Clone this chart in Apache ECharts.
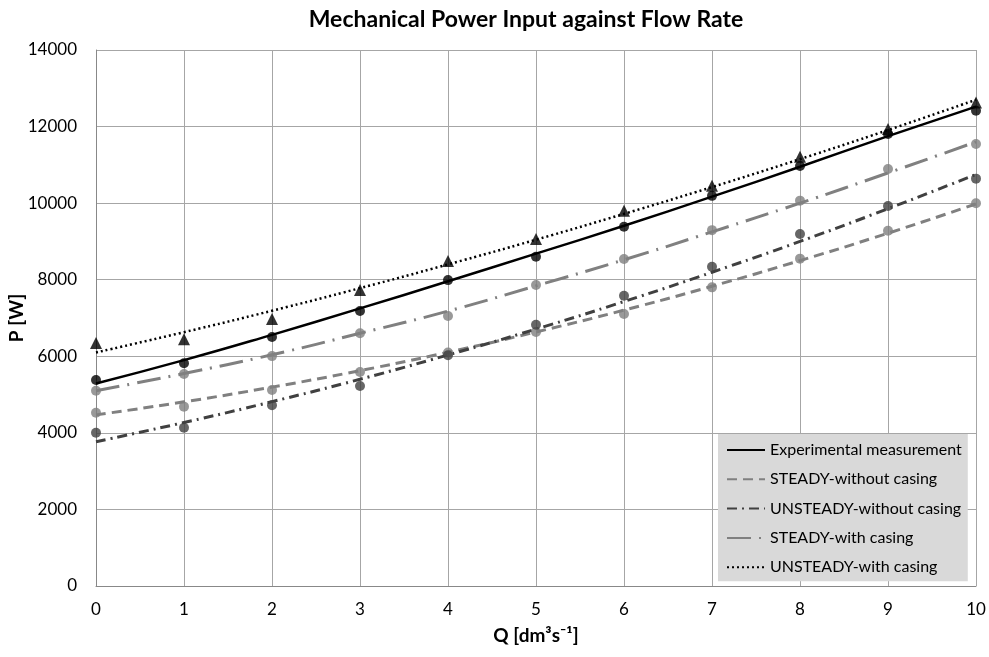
<!DOCTYPE html>
<html><head><meta charset="utf-8">
<script src="https://cdn.jsdelivr.net/npm/echarts@6/dist/echarts.min.js"></script>
<style>html,body{margin:0;padding:0;background:#fff}#c{width:989px;height:657px}</style>
</head><body><div id="c"></div>
<script>
const flowQ = [0,1,2,3,4,5,6,7,8,9,10];
const xTickLabels = ['0','1','2','3','4','5','6','7','8','9','10'];
const yTickLabels = ['0','2000','4000','6000','8000','10000','12000','14000'];
const seriesNames = ['Experimental measurement','STEADY-without casing','UNSTEADY-without casing','STEADY-with casing','UNSTEADY-with casing'];
// measured / simulated points (markers)
const expPts      = [5380,5820,6505,7185,7990,8600,9385,10190,10970,11805,12415];
const steadyNoPts = [4525,4685,5120,5590,6100,6635,7105,7800,8550,9280,9995];
const unsteadyNoPts=[4005,4135,4720,5225,6025,6825,7580,8340,9195,9925,10640];
const steadyCasPts= [5100,5535,6005,6600,7050,7860,8540,9295,10065,10890,11545];
const unsteadyCasPts=[6350,6445,6975,7730,8490,9065,9800,10455,11215,11935,12630];
// trendlines
const expTrend      = [5290,5900,6560,7250,7960,8680,9410,10170,10950,11750,12520];
const steadyNoTrend = [4470,4810,5195,5625,6105,6635,7205,7830,8500,9215,9980];
const unsteadyNoTrend=[3770,4270,4815,5400,6035,6710,7430,8195,9000,9855,10750];
const steadyCasTrend= [5100,5550,6040,6600,7180,7840,8520,9250,10000,10790,11600];
const unsteadyCasTrend=[6100,6630,7190,7780,8400,9045,9720,10420,11150,11910,12700];

const pairs = a => flowQ.map((q,i)=>[q,a[i]]);
const font = 'Lato, "Open Sans", sans-serif';
const styles = [
  {color:'#000000', type:'solid', width:2.5, sym:'circle', size:10, pts:expPts, tr:expTrend},
  {color:'#808080', type:[10,6], width:3, sym:'circle', size:10, pts:steadyNoPts, tr:steadyNoTrend},
  {color:'#404040', type:[10,5,2,5], width:3, sym:'circle', size:10, pts:unsteadyNoPts, tr:unsteadyNoTrend},
  {color:'#808080', type:[24,8,2,8], width:3, sym:'circle', size:10, pts:steadyCasPts, tr:steadyCasTrend},
  {color:'#000000', type:[2,3], width:2.5, sym:'triangle', size:12, pts:unsteadyCasPts, tr:unsteadyCasTrend}
];
const series = [];
styles.forEach((s,i)=>{
  series.push({name:seriesNames[i], type:'line', smooth:true, symbol:'none', data:pairs(s.tr),
    lineStyle:{color:s.color, type:s.type, width:s.width}, itemStyle:{color:s.color}, z:2});
});
styles.forEach((s,i)=>{
  series.push({name:seriesNames[i]+' pts', type:'scatter', symbol:s.sym, symbolSize:s.size,
    data:pairs(s.pts), itemStyle:{color:s.color}, z:3});
});
const chart = echarts.init(document.getElementById('c'));
chart.setOption({
  animation:false,
  title:{text:'Mechanical Power Input against Flow Rate', left:521, textAlign:'center', top:3,
    textStyle:{fontFamily:font, fontSize:23, fontWeight:'bold', color:'#000'}},
  grid:{left:96, right:13, top:50, bottom:71, containLabel:false, outerBoundsMode:'none'},
  legend:{data:seriesNames, orient:'vertical', left:718, top:434, width:250, height:148,
    backgroundColor:'#d9d9d9', padding:[6,6,4,8], itemGap:9.3, itemWidth:38, itemHeight:20,
    itemStyle:{opacity:0},
    textStyle:{fontFamily:font, fontSize:16, color:'#000', lineHeight:20}},
  xAxis:{type:'value', min:0, max:10, interval:1, name:'Q [dm³s⁻¹]', nameLocation:'middle', nameGap:40,
    nameMoveOverlap:false,
    nameTextStyle:{fontFamily:font, fontSize:19, fontWeight:'bold', color:'#000'},
    axisLine:{lineStyle:{color:'#888'}}, axisTick:{show:false},
    axisLabel:{fontFamily:font, fontSize:17, color:'#000', margin:15, formatter:(v)=>xTickLabels[flowQ.indexOf(v)]},
    splitLine:{show:true, lineStyle:{color:'#a6a6a6'}}},
  yAxis:{type:'value', min:0, max:14000, interval:2000, name:'P [W]', nameLocation:'middle', nameGap:70, nameRotate:90,
    nameMoveOverlap:false,
    nameTextStyle:{fontFamily:font, fontSize:19, fontWeight:'bold', color:'#000'},
    axisLine:{show:true, lineStyle:{color:'#888'}}, axisTick:{show:false},
    axisLabel:{fontFamily:font, fontSize:17, color:'#000', margin:19, formatter:(v)=>yTickLabels[v/2000]},
    splitLine:{show:true, lineStyle:{color:'#a6a6a6'}}},
  series:series
});
</script></body></html>
